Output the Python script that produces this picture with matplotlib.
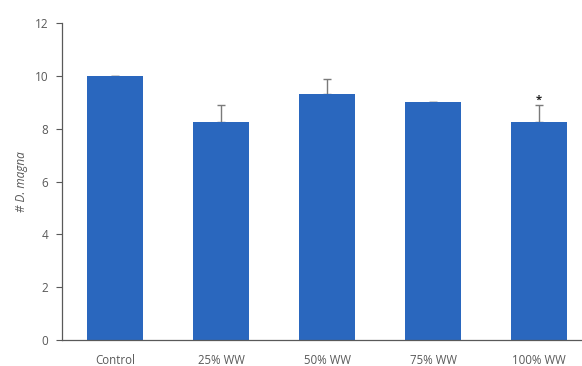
import matplotlib
matplotlib.use("Agg")
import matplotlib.pyplot as plt

categories = ["Control", "25% WW", "50% WW", "75% WW", "100% WW"]
means = [10.0, 8.27, 9.33, 9.0, 8.27]
errors = [0.02, 0.64, 0.57, 0.03, 0.64]
significant = [False, False, False, False, True]
yticks = [0, 2, 4, 6, 8, 10, 12]

text_color = "#595959"
bar_color = "#2a67be"

plt.rcParams["font.family"] = ["Open Sans", "DejaVu Sans"]

fig = plt.figure(figsize=(5.82, 3.66), dpi=100)
ax = fig.add_axes([62 / 582, 26 / 366, 1 - 62 / 582, (340 - 23.3) / 366])

x = list(range(len(categories)))
ax.bar(x, means, width=0.53, color=bar_color, zorder=2)
ax.errorbar(x, means, yerr=[[0] * len(errors), errors], fmt="none",
            ecolor="#7a7a7a", elinewidth=1.0, capsize=3, capthick=1.0, zorder=1)

for xi, m, e, s in zip(x, means, errors, significant):
    if s:
        ax.text(xi, m + e - 0.02, "*", ha="center", va="bottom",
                fontsize=8, fontweight="bold", color="#222222")

ax.set_xlim(-0.5, 4.405)
ax.set_ylim(0, 12)
ax.set_yticks(yticks)
ax.set_xticks(x)
ax.set_xticklabels(categories)
ax.tick_params(axis="x", length=0, pad=10, labelsize=8.3, colors=text_color)
ax.tick_params(axis="y", length=4, width=0.8, pad=6, labelsize=8.5, colors=text_color)

for side in ["top", "right"]:
    ax.spines[side].set_visible(False)
for side in ["left", "bottom"]:
    ax.spines[side].set_color(text_color)
    ax.spines[side].set_linewidth(0.9)

ax.set_ylabel("# D. magna", fontstyle="italic", fontsize=8.5, color=text_color, labelpad=5)

fig.savefig("out.png", dpi=100)
